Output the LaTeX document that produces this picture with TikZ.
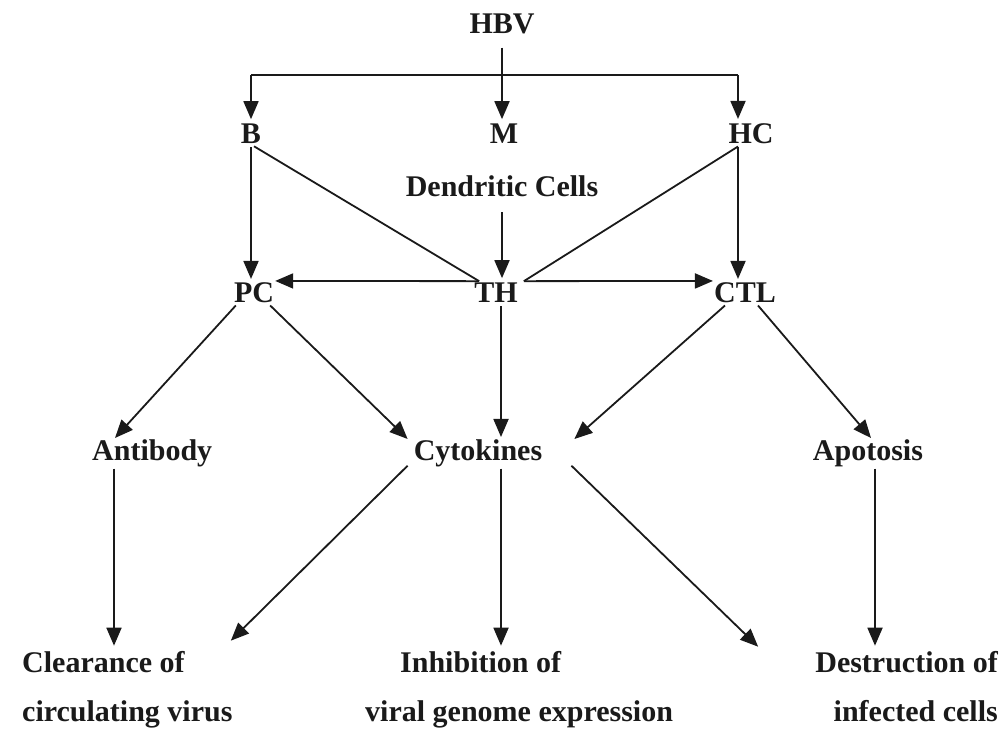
\documentclass[tikz,border=0pt]{standalone}
\usepackage{fontspec}
\setmainfont{Liberation Serif}
\usetikzlibrary{arrows.meta}
\definecolor{ink}{HTML}{1A1A1A}
\begin{document}
\begin{tikzpicture}[x=1pt,y=-1pt,
  lbl/.style={font=\fontsize{30}{30}\selectfont\bfseries, inner sep=0pt, text=ink},
  con/.style={draw=ink, line width=1.8pt},
  arr/.style={con, -{Triangle[length=18pt,width=15pt]}}]
\useasboundingbox (0,0) rectangle (1001,729);
\fill[white] (0,0) rectangle (1001,729);
% nodes
\node[lbl, anchor=base] (HBV) at (502,33) {HBV};
\node[lbl, anchor=base] (B) at (251,143) {B};
\node[lbl, anchor=base] (M) at (504,143) {M};
\node[lbl, anchor=base] (HC) at (751,143) {HC};
\node[lbl, anchor=base] (DC) at (502,196) {Dendritic Cells};
\node[lbl, anchor=base] (PC) at (254,302) {PC};
\node[lbl, anchor=base] (TH) at (496,302) {TH};
\node[lbl, anchor=base] (CTL) at (745,302) {CTL};
\node[lbl, anchor=base west] (AB) at (92,460) {Antibody};
\node[lbl, anchor=base] (CY) at (478,460) {Cytokines};
\node[lbl, anchor=base] (AP) at (868,460) {Apotosis};
\node[lbl, anchor=base west] (CL1) at (22,672) {Clearance of};
\node[lbl, anchor=base west] (CL2) at (22,721) {circulating virus};
\node[lbl, anchor=base west] (IN1) at (400,672) {Inhibition of};
\node[lbl, anchor=base west] (IN2) at (365,721) {viral genome expression};
\node[lbl, anchor=base east] (DE1) at (998,672) {Destruction of};
\node[lbl, anchor=base east] (DE2) at (998,721) {infected cells};
% top part
\coordinate (barL) at (251,75);
\coordinate (barR) at (738,75);
\draw[arr, shorten >=4pt] ([yshift=-14pt]HBV.south) -- (HBV.south |- M.north);
\draw[con] (barL) -- (barR);
\draw[arr, shorten >=4pt] (barL) -- (barL |- B.north);
\draw[arr, shorten >=4pt] (barR) -- (barR |- HC.north);
\coordinate (hcB) at (barR |- HC.south);
\draw[arr, shorten >=3pt] ([yshift=-4pt]B.south) -- (B.south |- PC.north);
\draw[arr, shorten >=3pt] ([yshift=-4pt]hcB) -- (hcB |- CTL.north);
\coordinate (thL) at ([xshift=5pt,yshift=1pt]TH.north west);
\coordinate (thR) at ([xshift=6pt,yshift=1pt]TH.north east);
\draw[con] ([xshift=3pt,yshift=-3pt]B.south) -- (thL);
\draw[con] ([yshift=-3pt]hcB) -- (thR);
\draw[arr, shorten >=1pt] (thL) -- ([yshift=1pt]PC.north east);
\draw[arr, shorten >=1pt] (thR) -- ([yshift=1pt]CTL.north west);
\draw[arr, shorten >=4pt] ([yshift=-16pt]DC.south) -- (DC.south |- TH.north);
% middle part
\draw[arr] ([xshift=2pt,yshift=-3pt]PC.south west) -- ([xshift=23pt,yshift=1pt]AB.north west);
\draw[arr] ([xshift=-4pt,yshift=-3pt]PC.south east) -- ([xshift=-6pt]CY.north west);
\coordinate (thS) at ([xshift=5pt,yshift=-4pt]TH.south);
\draw[arr, shorten >=2pt] (thS) -- (thS |- CY.north);
\draw[arr] ([xshift=-20pt,yshift=-3pt]CTL.south) -- ([xshift=32pt]CY.north east);
\draw[arr] ([xshift=13pt,yshift=-3pt]CTL.south) -- ([xshift=3pt,yshift=1pt]AP.north);
% bottom part
\coordinate (abS) at ([xshift=22pt,yshift=-2pt]AB.south west);
\draw[arr, shorten >=5pt] (abS) -- (abS |- CL1.north);
\draw[arr] ([xshift=-6pt,yshift=1pt]CY.south west) -- ([xshift=46pt,yshift=10pt]CL1.north east);
\coordinate (cyS) at ([xshift=23pt,yshift=-2pt]CY.south);
\draw[arr, shorten >=5pt] (cyS) -- (cyS |- IN1.north);
\draw[arr] ([xshift=29pt,yshift=1pt]CY.south east) -- ([xshift=-57pt,yshift=4pt]DE1.north west);
\coordinate (apS) at ([xshift=7pt,yshift=-2pt]AP.south);
\draw[arr, shorten >=5pt] (apS) -- (apS |- DE1.north);
\end{tikzpicture}
\end{document}
